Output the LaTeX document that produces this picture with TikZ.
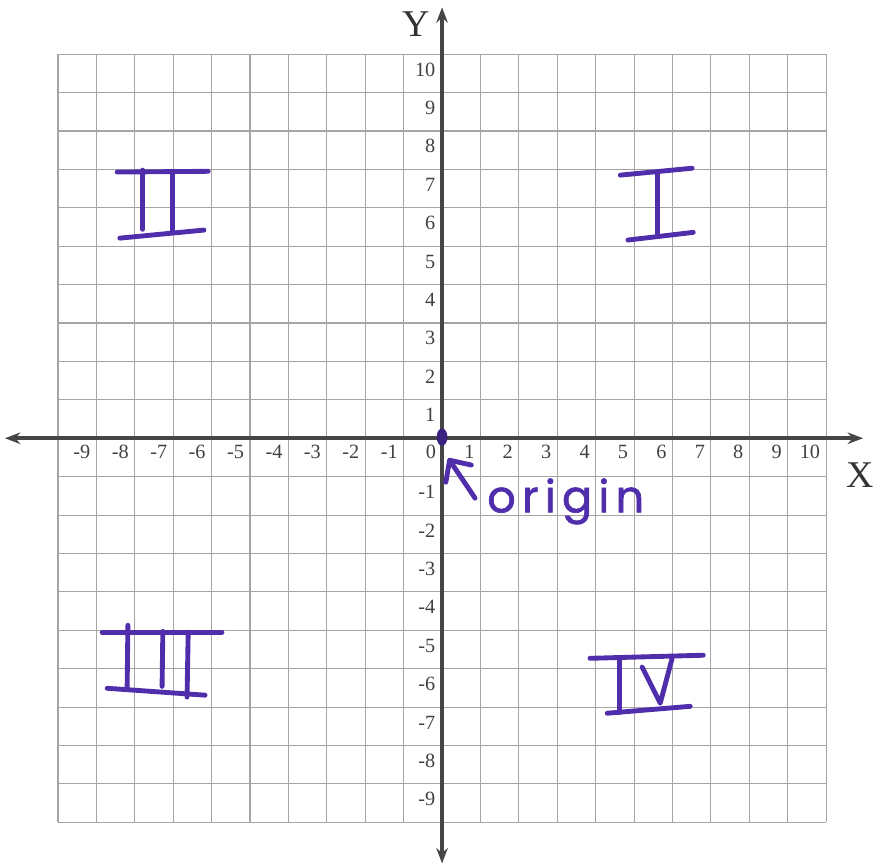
\documentclass[tikz,border=0pt]{standalone}
\usepackage{fontspec}
\setmainfont{Liberation Serif}
\newfontfamily\handfont[LetterSpace=14,FakeBold=1.5]{Poppins}
\usepackage{tikz}
\usetikzlibrary{arrows.meta,shapes.geometric}
\definecolor{gridgray}{RGB}{165,165,165}
\definecolor{axisgray}{RGB}{70,70,70}
\definecolor{penpurple}{RGB}{80,45,170}

\begin{document}
\begin{tikzpicture}[
      gridline/.style={draw=gridgray, line width=0.8pt},
      axis/.style={draw=axisgray, line width=2.6pt,
                   {Stealth[length=0.4cm,width=0.3cm]}-{Stealth[length=0.4cm,width=0.3cm]}},
      xlab/.style={anchor=east, inner sep=0pt, text=black!75, font=\fontsize{15}{15}\selectfont},
      ylab/.style={anchor=east, inner sep=0pt, text=black!75, font=\fontsize{15}{15}\selectfont},
      axlab/.style={inner sep=0pt, text=black!80, font=\fontsize{28}{28}\selectfont},
      pen/.style={draw=penpurple, line width=3.6pt, line cap=round, line join=round},
    ]
      \useasboundingbox (-11.51,-11.12) rectangle (11.22,11.41);
      %% graph paper
      \draw[gridline] (-10,-10) grid (10,10);
      %% axes
      \coordinate (xmin) at (-11.38,0);
      \coordinate (xmax) at (10.96,0);
      \coordinate (ymin) at (0,-11.07);
      \coordinate (ymax) at (0,11.22);
      \draw[axis] (xmin) -- (xmax);
      \draw[axis] (ymin) -- (ymax);
      \node[axlab] (ylabel) at (-0.68,10.77) {Y};
      \node[axlab] (xlabel) at (10.88,-0.97) {X};
      %% tick numbers
      \foreach \k in {-9,...,10}
        \node[xlab] (xl\k) at (\k-0.15,-0.36) {\k};
      \foreach \k in {-9,...,-1,1,2,...,10}
        \node[ylab] (yl\k) at (-0.17,\k-0.4) {\k};
      %% quadrant I
      \draw[pen] (4.64,6.85) -- (6.51,7.03);
      \draw[pen] (5.60,6.93) -- (5.60,5.34);
      \draw[pen] (4.84,5.16) -- (6.54,5.36);
      %% quadrant II
      \draw[pen] (-8.46,6.93) -- (-6.09,6.95);
      \draw[pen] (-7.79,6.98) -- (-7.79,5.44);
      \draw[pen] (-7.01,6.93) -- (-7.01,5.36);
      \draw[pen] (-8.39,5.21) -- (-6.20,5.42);
      %% quadrant III
      \draw[pen] (-8.85,-5.05) -- (-5.73,-5.05);
      \draw[pen] (-8.18,-4.87) -- (-8.20,-6.51);
      \draw[pen] (-7.27,-5.03) -- (-7.29,-6.46);
      \draw[pen] (-6.61,-5.05) -- (-6.64,-6.74);
      \draw[pen] (-8.72,-6.51) -- (-6.17,-6.69);
      %% quadrant IV
      \draw[pen] (3.85,-5.73) -- (6.80,-5.65);
      \draw[pen] (4.61,-5.78) -- (4.61,-7.14);
      \draw[pen] (5.21,-5.96) -- (5.68,-6.90) -- (5.99,-5.73);
      \draw[pen] (4.30,-7.16) -- (6.46,-6.98);
      %% origin
      \node[ellipse, fill=penpurple!75!black, minimum width=0.28cm,
            minimum height=0.45cm, inner sep=0pt] (dot) at (0,0.03) {};
      \node[anchor=base west, inner sep=0pt, text=penpurple,
            font=\handfont\fontsize{33}{33}\selectfont] (origin) at (1.17,-1.93) {origin};
      \coordinate (tail) at (0.86,-1.56);
      \coordinate (tip) at (0.16,-0.52);
      \draw[pen, -{Straight Barb[length=0.42cm,width=0.8cm,round]}] (tail) -- (tip);
    \end{tikzpicture}
\end{document}
